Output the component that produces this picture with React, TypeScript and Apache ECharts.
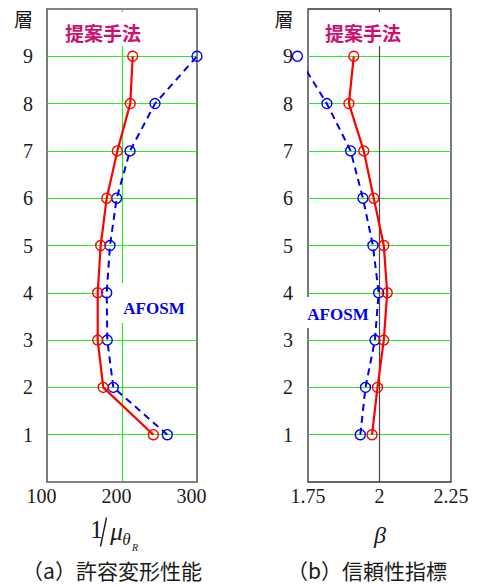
import React, { useEffect, useRef } from "react";
import * as echarts from "echarts";

const floors = [1, 2, 3, 4, 5, 6, 7, 8, 9];
// (a) 許容変形性能 1/μθR
const leftProposed = [241.8, 175.0, 167.6, 167.6, 171.6, 179.6, 193.8, 211.0, 214.3];
const leftAfosm = [260.4, 188.4, 180.4, 179.6, 184.0, 192.9, 210.7, 244.0, 300.0];
// (b) 信頼性指標 β
const rightProposed = [1.974, 1.993, 2.015, 2.027, 2.015, 1.98, 1.945, 1.893, 1.91];
const rightAfosm = [1.933, 1.951, 1.984, 1.997, 1.977, 1.942, 1.899, 1.816, 1.713];

const leftXTicks = { min: 100, max: 300, interval: 100 };
const rightXTicks = { min: 1.75, max: 2.25, interval: 0.25 };

const RED = "#ff0000";
const BLUE = "#0000ee";
const GREEN = "#2ee82e";
const MAGENTA = "#cc1070";
const SERIF = "Liberation Serif";
const CJK = "Noto Sans CJK JP";

function pairs(xs: number[]) {
  return xs.map((x, i) => [x, floors[i]]);
}

function mkSeries(name: string, xs: number[], idx: number, color: string, dashed: boolean) {
  return {
    name,
    type: "line",
    xAxisIndex: idx,
    yAxisIndex: idx,
    data: pairs(xs),
    symbol: "circle",
    symbolSize: 10,
    clip: false,
    z: 3,
    silent: true,
    itemStyle: { color: "rgba(0,0,0,0)", borderColor: color, borderWidth: 1.4 },
    lineStyle: { color, width: dashed ? 2 : 2.2, type: dashed ? [7, 5] : "solid" },
    emphasis: { disabled: true },
  };
}

function yAxis(idx: number, margin: number) {
  return {
    type: "value",
    gridIndex: idx,
    min: 0,
    max: 10,
    interval: 1,
    axisLine: { show: false },
    axisTick: { show: false },
    axisLabel: {
      margin,
      color: "#1a1a1a",
      fontFamily: SERIF,
      fontSize: 20,
      formatter: (v: number) => (v >= 1 && v <= 9 ? String(v) : ""),
    },
    splitLine: {
      show: true,
      showMinLine: false,
      showMaxLine: false,
      lineStyle: { color: GREEN, width: 1.2 },
    },
  };
}

function xAxis(idx: number, ticks: any, splitColor: string, padding: number[]) {
  return {
    type: "value",
    gridIndex: idx,
    min: ticks.min,
    max: ticks.max,
    interval: ticks.interval,
    axisLine: { show: false },
    axisTick: { show: false },
    axisLabel: {
      margin: 4,
      color: "#1a1a1a",
      fontFamily: SERIF,
      fontSize: 20,
      padding,
    },
    splitLine: {
      show: true,
      showMinLine: false,
      showMaxLine: false,
      lineStyle: { color: splitColor, width: 1.2 },
    },
  };
}

function txt(text: string, x: number, y: number, size: number, family: string, fill: string, opts: any = {}) {
  const style: any = {
    text,
    fontSize: size,
    fontFamily: family,
    fill,
    textAlign: "center",
    align: "center",
    textVerticalAlign: "middle",
    verticalAlign: "middle",
  };
  if (opts.bold) style.fontWeight = "bold";
  if (opts.italic) style.fontStyle = "italic";
  return { type: "text", x, y, z: 10, silent: true, style };
}

function box(x: number, y: number, w: number, h: number) {
  return {
    type: "rect",
    z: 1,
    silent: true,
    shape: { x, y, width: w, height: h },
    style: { fill: "#ffffff" },
  };
}

export default function App() {
  const ref = useRef<HTMLDivElement>(null);
  useEffect(() => {
    if (!ref.current) return;
    const chart = echarts.init(ref.current, null, { renderer: "svg" });
    chart.setOption({
      animation: false,
      textStyle: { fontFamily: SERIF },
      grid: [
        { left: 47, top: 9, width: 150, height: 473, show: true, borderColor: "#5a5a5a", borderWidth: 1.6, backgroundColor: "transparent" },
        { left: 308, top: 9, width: 143, height: 473, show: true, borderColor: "#333333", borderWidth: 1.3, backgroundColor: "transparent" },
      ],
      xAxis: [
        xAxis(0, leftXTicks, GREEN, [0, 11, 0, 0]),
        xAxis(1, rightXTicks, "#444444", [0, 0, 0, 0]),
      ],
      yAxis: [yAxis(0, 14), yAxis(1, 15)],
      series: [
        mkSeries("AFOSM (a)", leftAfosm, 0, BLUE, true),
        mkSeries("提案手法 (a)", leftProposed, 0, RED, false),
        mkSeries("AFOSM (b)", rightAfosm, 1, BLUE, true),
        mkSeries("提案手法 (b)", rightProposed, 1, RED, false),
      ],
      graphic: [
        box(58, 12, 95, 34),
        box(318, 12, 90, 34),
        box(96, 283, 100, 40),
        box(300, 297, 74, 31),
        txt("提案手法", 103, 32, 19, CJK, MAGENTA, { bold: true }),
        txt("提案手法", 363, 32, 19, CJK, MAGENTA, { bold: true }),
        txt("AFOSM", 154, 308.5, 17, SERIF, BLUE, { bold: true }),
        txt("AFOSM", 338, 314, 17, SERIF, BLUE, { bold: true }),
        txt("層", 23.5, 18.5, 19, CJK, "#1a1a1a"),
        txt("層", 284, 18.5, 19, CJK, "#1a1a1a"),
        // 1/μθR
        txt("1", 96.5, 529, 25, SERIF, "#1a1a1a"),
        {
          type: "line",
          z: 10,
          silent: true,
          shape: { x1: 106.5, y1: 517.5, x2: 100.5, y2: 546.5 },
          style: { stroke: "#1a1a1a", lineWidth: 1.4 },
        },
        txt("μ", 116.5, 531, 25, SERIF, "#1a1a1a", { italic: true }),
        txt("θ", 126.5, 539, 17, SERIF, "#1a1a1a", { italic: true }),
        txt("R", 135, 547, 10, SERIF, "#1a1a1a", { italic: true }),
        txt("β", 380, 535, 24, SERIF, "#1a1a1a", { italic: true }),
        txt("（a）許容変形性能", 112, 570, 21, CJK, "#1a1a1a"),
        txt("（b）信頼性指標", 367, 570, 21, CJK, "#1a1a1a"),
      ],
    });
    return () => chart.dispose();
  }, []);
  return (
    <div
      ref={ref}
      style={{ position: "absolute", left: 0, top: 0, width: 477, height: 586 }}
    />
  );
}
